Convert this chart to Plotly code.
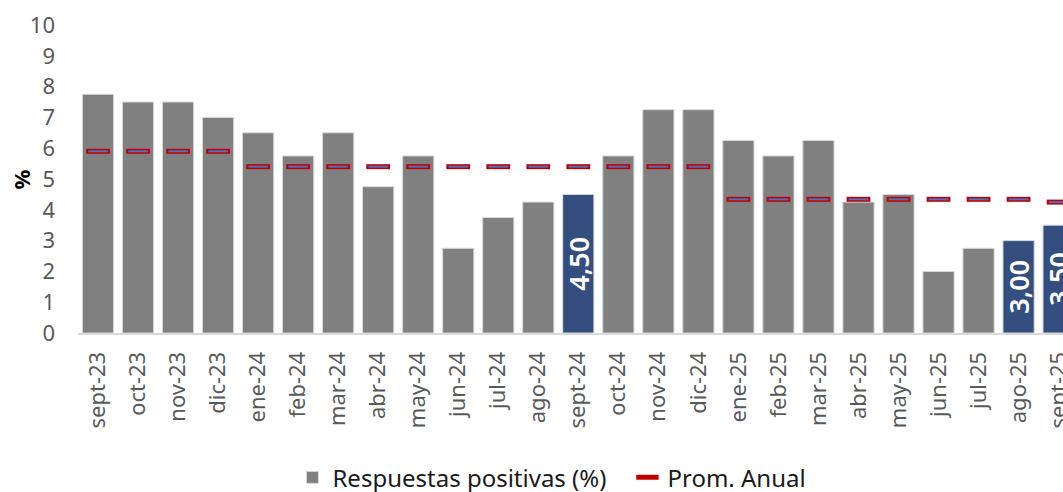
import plotly.graph_objects as go

MONTHS = ["sept-23", "oct-23", "nov-23", "dic-23", "ene-24", "feb-24", "mar-24",
          "abr-24", "may-24", "jun-24", "jul-24", "ago-24", "sept-24", "oct-24",
          "nov-24", "dic-24", "ene-25", "feb-25", "mar-25", "abr-25", "may-25",
          "jun-25", "jul-25", "ago-25", "sept-25"]
POSITIVE = [7.75, 7.5, 7.5, 7.0, 6.5, 5.75, 6.5, 4.75, 5.75, 2.75, 3.75, 4.25,
            4.5, 5.75, 7.25, 7.25, 6.25, 5.75, 6.25, 4.25, 4.5, 2.0, 2.75, 3.0, 3.5]
ANNUAL_AVG = [5.9, 5.9, 5.9, 5.9, 5.4, 5.4, 5.4, 5.4, 5.4, 5.4, 5.4, 5.4,
              5.4, 5.4, 5.4, 5.4, 4.34, 4.34, 4.34, 4.34, 4.34, 4.34, 4.34, 4.34, 4.25]
HIGHLIGHT = ["sept-24", "ago-25", "sept-25"]

GREY = "#808080"
NAVY = "#334E7F"
FONT = "Noto Sans"

colors = [NAVY if m in HIGHLIGHT else GREY for m in MONTHS]
labels = [f"{v:.2f}".replace(".", ",") if m in HIGHLIGHT else "" for m, v in zip(MONTHS, POSITIVE)]
idx = list(range(len(MONTHS)))

fig = go.Figure()
fig.add_trace(go.Bar(
    x=idx, y=POSITIVE, name="Respuestas positivas (%)",
    marker=dict(color=colors, line=dict(color="#D9D9D9", width=1)),
    text=labels, textposition="inside", insidetextanchor="middle", textangle=-90,
    textfont=dict(family=FONT, size=27, color="white", weight=600),
))
fig.add_trace(go.Scatter(
    x=idx, y=ANNUAL_AVG, name="Prom. Anual", mode="markers",
    marker=dict(symbol="line-ew", size=17, line=dict(color="#C00000", width=5)),
))
fig.add_trace(go.Scatter(
    x=idx, y=ANNUAL_AVG, mode="markers", showlegend=False, hoverinfo="skip",
    marker=dict(symbol="line-ew", size=14, line=dict(color="#4F6FC0", width=2)),
))

fig.update_layout(
    width=1063, height=492,
    margin=dict(l=77.5, r=0, t=25, b=159, autoexpand=False),
    paper_bgcolor="white", plot_bgcolor="white",
    bargap=0.22,
    uniformtext=dict(minsize=27, mode="show"),
    font=dict(family=FONT, color="#595959"),
    xaxis=dict(range=[-0.5, 24.11], tickmode="array", tickvals=idx, ticktext=MONTHS,
               tickangle=-90, tickfont=dict(size=22, color="#595959"),
               showline=True, linecolor="#D9D9D9", linewidth=2,
               showgrid=False, ticks="", ticklabelstandoff=8,
               automargin=False, ticklabeloverflow="allow"),
    yaxis=dict(range=[0, 10], dtick=1, showgrid=False, zeroline=False,
               tickfont=dict(size=22, color="#595959"), ticklabelstandoff=22,
               automargin=False),
    legend=dict(orientation="h", x=0.2177, xanchor="left", y=-0.47, yanchor="middle",
                font=dict(size=24, color="#1a1a1a"), itemwidth=30,
                entrywidth=290, entrywidthmode="pixels"),
    showlegend=True,
    annotations=[dict(text="<b>%</b>", xref="paper", yref="paper", x=-0.0583, y=0.497,
                      xanchor="center", yanchor="middle",
                      textangle=-90, showarrow=False,
                      font=dict(family=FONT, size=22, color="black"))],
)

# drop the default body margin so the figure sits at the window's top-left corner
fig.write_html("out.html", config={"displayModeBar": False},
               post_script="document.body.style.margin='0';")
